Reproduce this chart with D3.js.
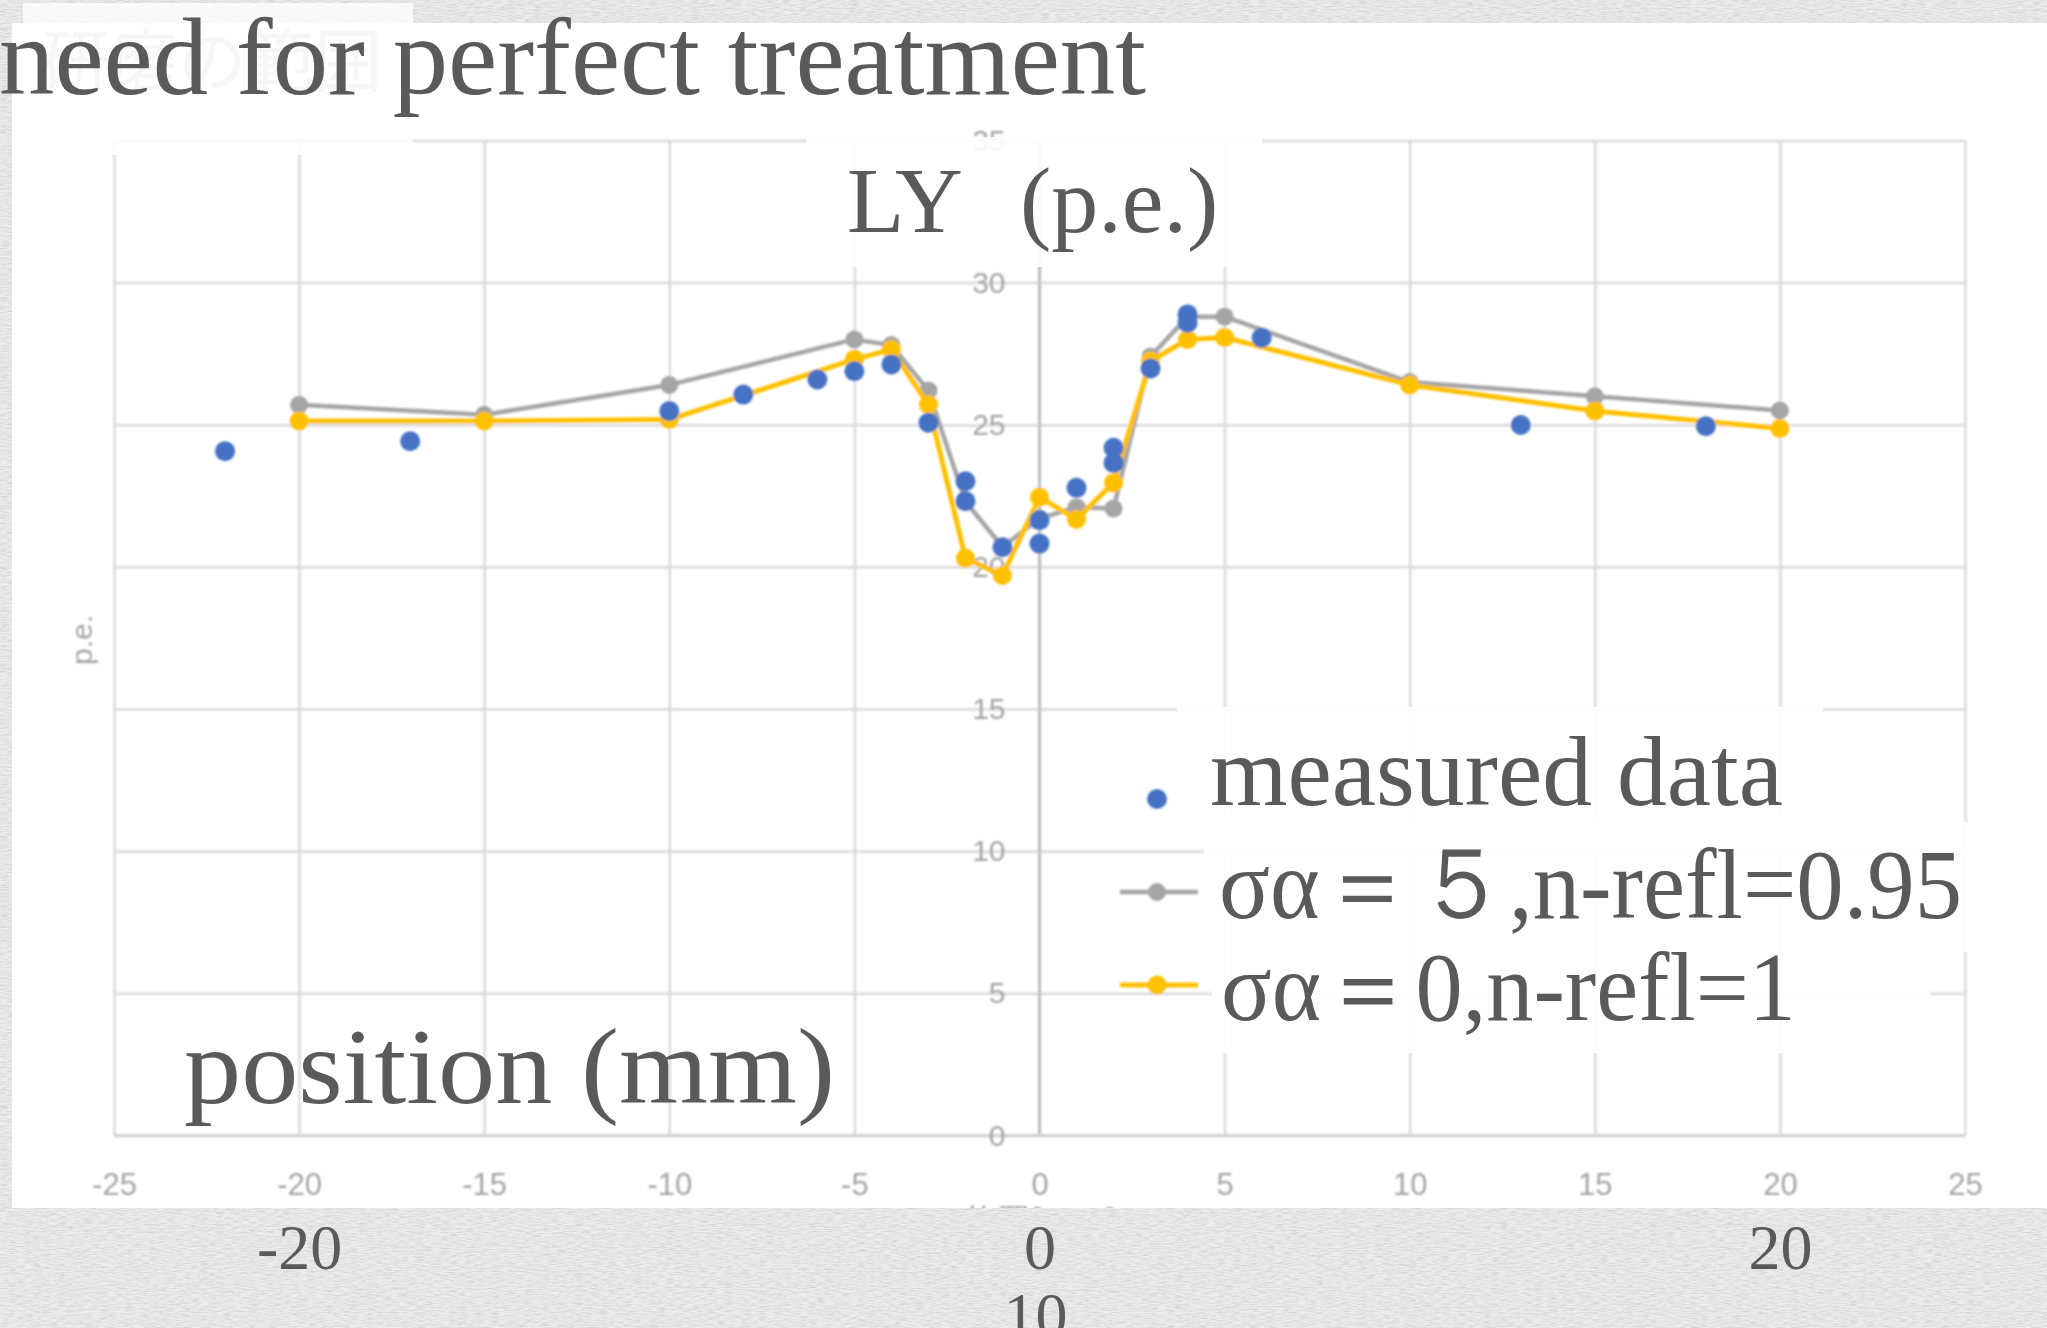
<!DOCTYPE html>
<html>
<head>
<meta charset="utf-8">
<script src="https://cdn.jsdelivr.net/npm/d3@7"></script>
<style>
  html, body { margin: 0; padding: 0; background: #e8e8e8; }
  svg { display: block; }
</style>
</head>
<body>
<svg id="chart" width="2047" height="1328"></svg>
<script>
// ---------------- data ----------------
const simX      = [-20, -15, -10, -5, -4, -3, -2, -1, 0, 1, 2, 3, 4, 5, 10, 15, 20];
const simGray   = [25.7, 25.35, 26.4, 28.0, 27.8, 26.2, 22.3, 20.7, 21.7, 22.1, 22.05, 27.4, 28.8, 28.8, 26.5, 26.0, 25.5];
const simYellow = [25.13, 25.13, 25.18, 27.3, 27.65, 25.71, 20.3, 19.7, 22.45, 21.67, 22.96, 27.24, 28.0, 28.07, 26.4, 25.48, 24.87];
const measX     = [-22, -17, -10, -8, -6, -5, -4, -3, -2, -2, -1, 0, 0, 1, 2, 2, 3, 4, 4, 6, 13, 18];
const measY     = [24.07, 24.42, 25.48, 26.06, 26.59, 26.88, 27.12, 25.07, 23.01, 22.31, 20.69, 21.64, 20.82, 22.78, 24.19, 23.66, 26.98, 28.88, 28.59, 28.06, 24.99, 24.95];
const xTicks    = [-25, -20, -15, -10, -5, 0, 5, 10, 15, 20, 25];
const yTicks    = [0, 5, 10, 15, 20, 25, 30, 35];
const slideXTicks = [-20, 0, 20];
const seriesNames = ["measured data", "σα＝５,n-refl=0.95", "σα＝0,n-refl=1"];
const titleText = "need for perfect treatment";
const yTitleText = "LY ";
const yTitleUnit = "(p.e.)";
const xTitleText = "position (mm)";
const excelYTitle = "p.e.";
const excelXTitle = "位置[mm]";
const fadedHeading = "研磨の範囲";
const extraLabel = "10";

// ---------------- setup ----------------
const svg = d3.select("#chart");
const W = 2047, H = 1328;
const serif = "'Liberation Serif', 'Times New Roman', serif";
const sans = "'Liberation Sans', Arial, sans-serif";
const textCol = "#5a5a5a";
const plain = d => String(d);

const defs = svg.append("defs");
const paper = defs.append("filter").attr("id", "paper")
  .attr("filterUnits", "userSpaceOnUse").attr("x", 0).attr("y", 0).attr("width", W).attr("height", H);
paper.append("feTurbulence").attr("type", "fractalNoise").attr("baseFrequency", "0.12 0.95")
  .attr("numOctaves", 3).attr("seed", 11).attr("result", "t");
paper.append("feColorMatrix").attr("in", "t").attr("type", "matrix")
  .attr("values", "0 0 0 0 0.55  0 0 0 0 0.55  0 0 0 0 0.55  0 0 0 1.2 -0.45");

const soft = defs.append("filter").attr("id", "soft").attr("x", "-5%").attr("y", "-5%").attr("width", "110%").attr("height", "110%");
soft.append("feGaussianBlur").attr("stdDeviation", 1.2);

defs.append("clipPath").attr("id", "imgclip").append("rect")
  .attr("x", 12).attr("y", 23).attr("width", W - 12).attr("height", 1185);

// background texture
svg.append("rect").attr("width", W).attr("height", H).attr("fill", "#ebebeb");
svg.append("rect").attr("width", W).attr("height", H).attr("fill", "#888").attr("filter", "url(#paper)");

// white chart image
svg.append("rect").attr("x", 12).attr("y", 23).attr("width", W - 12).attr("height", 1185).attr("fill", "#ffffff");

// scales
const x = d3.scaleLinear().domain([-25, 25]).range([114, 1965]);
const y = d3.scaleLinear().domain([0, 35]).range([1135.5, 140.4]);

const chart = svg.append("g").attr("clip-path", "url(#imgclip)").append("g").attr("filter", "url(#soft)");

// gridlines
chart.append("g").attr("transform", `translate(0,${y(0)})`)
  .call(d3.axisBottom(x).tickValues(xTicks).tickSize(-(y(0) - y(35))).tickFormat(""))
  .call(g => g.select(".domain").remove())
  .call(g => g.selectAll("line").attr("stroke", "#d9d9d9").attr("stroke-width", 2.5));
chart.append("g").attr("transform", `translate(${x(-25)},0)`)
  .call(d3.axisLeft(y).tickValues(yTicks).tickSize(-(x(25) - x(-25))).tickFormat(""))
  .call(g => g.select(".domain").remove())
  .call(g => g.selectAll("line").attr("stroke", "#d9d9d9").attr("stroke-width", 2.5));

// value axis line at x = 0 and category axis at y = 0
chart.append("line").attr("x1", x(0)).attr("x2", x(0)).attr("y1", y(35)).attr("y2", y(0))
  .attr("stroke", "#bdbdbd").attr("stroke-width", 3);
chart.append("line").attr("x1", x(-25)).attr("x2", x(25)).attr("y1", y(0)).attr("y2", y(0))
  .attr("stroke", "#cfcfcf").attr("stroke-width", 3);

// tick labels
chart.append("g").attr("transform", `translate(${x(0)},0)`)
  .call(d3.axisLeft(y).tickValues(yTicks).tickSize(0).tickPadding(34).tickFormat(plain))
  .call(g => g.select(".domain").remove())
  .call(g => g.selectAll("text").attr("fill", "#a3a3a3").attr("font-family", sans).attr("font-size", 30));
chart.append("g").attr("transform", `translate(0,${y(0)})`)
  .call(d3.axisBottom(x).tickValues(xTicks).tickSize(0).tickPadding(37).tickFormat(plain))
  .call(g => g.select(".domain").remove())
  .call(g => g.selectAll("text").attr("fill", "#a3a3a3").attr("font-family", sans).attr("font-size", 31));

// axis titles of the picture
chart.append("text").attr("transform", "translate(92,640) rotate(-90)").attr("text-anchor", "middle")
  .attr("font-family", sans).attr("font-size", 30).attr("fill", "#a3a3a3").text(excelYTitle);
chart.append("text").attr("x", x(0)).attr("y", 1234).attr("text-anchor", "middle")
  .attr("font-family", "'Noto Sans CJK JP', sans-serif").attr("font-size", 34).attr("fill", "#a3a3a3").text(excelXTitle);

// series
const grayPts = simX.map((d, i) => [d, simGray[i]]);
const yelPts = simX.map((d, i) => [d, simYellow[i]]);
const measPts = measX.map((d, i) => [d, measY[i]]);
const line = d3.line().x(d => x(d[0])).y(d => y(d[1]));

chart.append("path").datum(grayPts).attr("d", line).attr("fill", "none")
  .attr("stroke", "#a5a5a5").attr("stroke-width", 4.5).attr("stroke-linejoin", "round");
chart.append("g").selectAll("circle").data(grayPts).join("circle")
  .attr("cx", d => x(d[0])).attr("cy", d => y(d[1])).attr("r", 9).attr("fill", "#a5a5a5");

chart.append("path").datum(yelPts).attr("d", line).attr("fill", "none")
  .attr("stroke", "#ffc000").attr("stroke-width", 5).attr("stroke-linejoin", "round");
chart.append("g").selectAll("circle").data(yelPts).join("circle")
  .attr("cx", d => x(d[0])).attr("cy", d => y(d[1])).attr("r", 9.5).attr("fill", "#ffc000");

chart.append("g").selectAll("circle").data(measPts).join("circle")
  .attr("cx", d => x(d[0])).attr("cy", d => y(d[1])).attr("r", 10).attr("fill", "#4472c4");

// picture legend symbols
chart.append("circle").attr("cx", 1157).attr("cy", 799).attr("r", 10).attr("fill", "#4472c4");
chart.append("line").attr("x1", 1120).attr("x2", 1198).attr("y1", 892).attr("y2", 892).attr("stroke", "#a5a5a5").attr("stroke-width", 4.5);
chart.append("circle").attr("cx", 1157).attr("cy", 892).attr("r", 9).attr("fill", "#a5a5a5");
chart.append("line").attr("x1", 1120).attr("x2", 1198).attr("y1", 985).attr("y2", 985).attr("stroke", "#ffc000").attr("stroke-width", 5);
chart.append("circle").attr("cx", 1157).attr("cy", 985).attr("r", 9.5).attr("fill", "#ffc000");

// ---------------- slide overlays ----------------
// faded heading box at top-left
svg.append("text").attr("x", 42).attr("y", 86).attr("font-family", "'Noto Sans CJK JP', sans-serif")
  .attr("font-size", 68).attr("fill", "#d2d2d2").text(fadedHeading);
svg.append("rect").attr("x", 23).attr("y", 3).attr("width", 390).attr("height", 152)
  .attr("fill", "#ffffff").attr("opacity", 0.8);

// title
svg.append("text").attr("x", -1).attr("y", 94).attr("font-family", serif).attr("font-size", 110)
  .attr("fill", textCol).attr("textLength", 1147).attr("lengthAdjust", "spacingAndGlyphs").text(titleText);

// LY (p.e.) box
svg.append("rect").attr("x", 807).attr("y", 137).attr("width", 456).attr("height", 130)
  .attr("fill", "#ffffff").attr("opacity", 0.9);
const ly = svg.append("text").attr("x", 847).attr("y", 232).attr("font-family", serif)
  .attr("font-size", 94).attr("fill", textCol).style("white-space", "pre");
ly.append("tspan").text(yTitleText);
ly.append("tspan").attr("x", 1020).text(yTitleUnit);

// legend text boxes
svg.append("rect").attr("x", 1177).attr("y", 707).attr("width", 646).attr("height", 141).attr("fill", "#fff").attr("opacity", 0.93);
svg.append("rect").attr("x", 1204).attr("y", 822).attr("width", 764).attr("height", 130).attr("fill", "#fff").attr("opacity", 0.93);
svg.append("rect").attr("x", 1212).attr("y", 952).attr("width", 719).attr("height", 101).attr("fill", "#fff").attr("opacity", 0.93);

const legendLayout = [
  { x: 1210, y: 805, size: 100, len: 573 },
  { x: 1219, y: 918, size: 100, len: 743 },
  { x: 1221, y: 1020, size: 98, len: 575 }
];
svg.append("g").selectAll("text").data(seriesNames).join("text")
  .attr("x", (d, i) => legendLayout[i].x).attr("y", (d, i) => legendLayout[i].y)
  .attr("font-family", serif).attr("font-size", (d, i) => legendLayout[i].size)
  .attr("textLength", (d, i) => legendLayout[i].len).attr("lengthAdjust", "spacingAndGlyphs")
  .attr("fill", textCol).text(d => d);

// position (mm)
svg.append("text").attr("x", 184).attr("y", 1103).attr("font-family", serif).attr("font-size", 108)
  .attr("textLength", 651).attr("lengthAdjust", "spacingAndGlyphs").attr("fill", textCol).text(xTitleText);

// slide tick labels below picture
svg.append("g").attr("transform", "translate(0,1224)")
  .call(d3.axisBottom(x).tickValues(slideXTicks).tickSize(0).tickPadding(0).tickFormat(plain))
  .call(g => g.select(".domain").remove())
  .call(g => g.selectAll("text").attr("fill", textCol).attr("font-family", serif).attr("font-size", 64));
svg.append("text").attr("x", x(0) - 4).attr("y", 1337).attr("text-anchor", "middle")
  .attr("font-family", serif).attr("font-size", 64).attr("fill", textCol).text(extraLabel);
</script>
</body>
</html>
